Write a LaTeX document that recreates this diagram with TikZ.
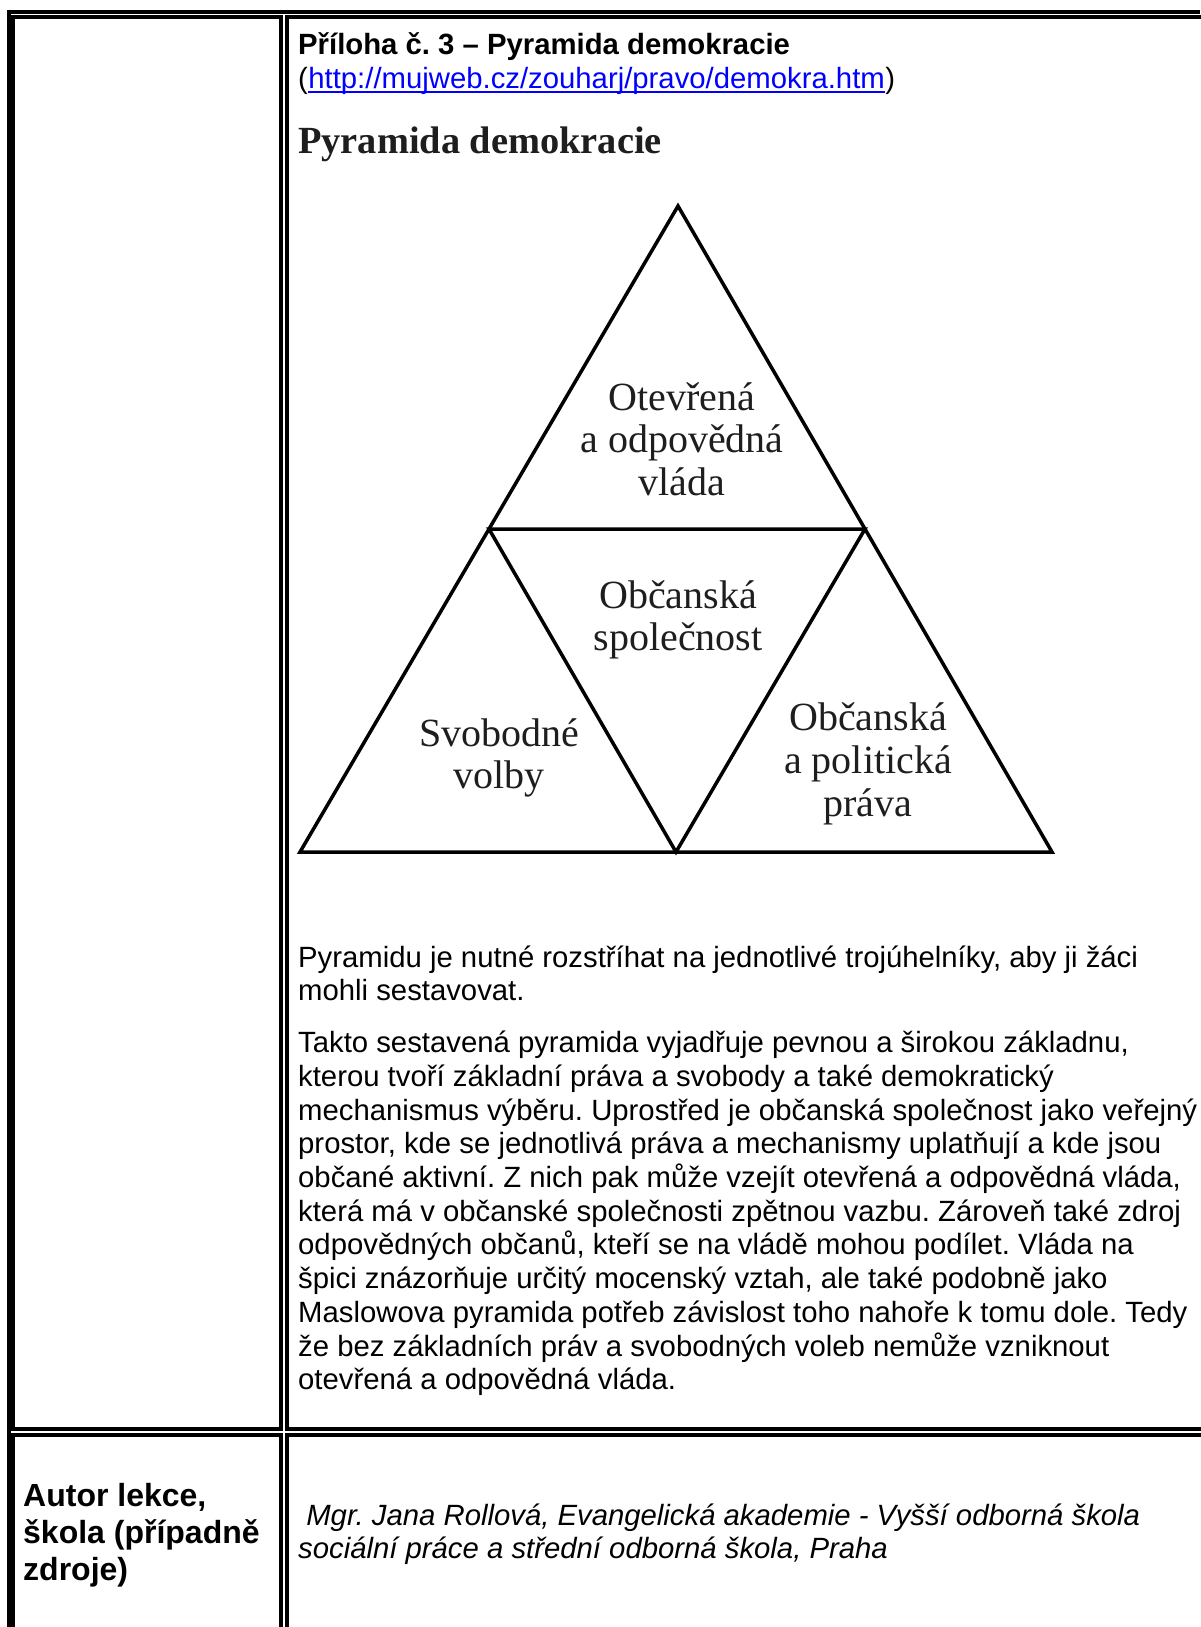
\documentclass[tikz,border=0pt]{standalone}
\usepackage{fontspec}
\setmainfont{Liberation Sans}
\newfontfamily\serifface{Liberation Serif}
\definecolor{linkblue}{RGB}{0,0,255}
\definecolor{trigray}{RGB}{30,30,30}
\frenchspacing
\begin{document}
\frenchspacing
\begin{tikzpicture}[x=1bp,y=-1bp,
  bodytxt/.style={anchor=base west, inner sep=0pt, font=\fontsize{29.3bp}{33.7bp}\selectfont},
  boldtxt/.style={anchor=base west, inner sep=0pt, font=\fontsize{29.3bp}{33.7bp}\selectfont\bfseries},
  itxt/.style={anchor=base west, inner sep=0pt, font=\fontsize{29.3bp}{33.7bp}\selectfont\itshape},
  lefthead/.style={anchor=base west, inner sep=0pt, font=\fontsize{32bp}{37bp}\selectfont\bfseries},
  trilabel/.style={anchor=base, inner sep=0pt, text=trigray, font=\serifface\fontsize{40bp}{44bp}\selectfont},
  triline/.style={draw=black, line width=3.5bp, line join=miter},
  cellborder/.style={draw=black, line width=4bp}
]
\useasboundingbox (0,0) rectangle (1200,1627);
\fill[white] (0,0) rectangle (1200,1627);

% table borders
\fill[black] (7,10) rectangle (1200,14);
\fill[black] (7,10) rectangle (11,1627);
\draw[cellborder] (13,17.5) rectangle (281,1429);
\draw[cellborder] (287,17.5) rectangle (1230,1429);
\draw[cellborder] (13,1435) rectangle (281,1660);
\draw[cellborder] (287,1435) rectangle (1230,1660);

% heading
\node[boldtxt] (head) at (298,54.3) {Příloha č. 3 – Pyramida demokracie};
\node[bodytxt] (lp) at (298,88) {(};
\node[bodytxt, text=linkblue] (url) at (lp.base east) {http://mujweb.cz/zouharj/pravo/demokra.htm};
\node[bodytxt] (rp) at (url.base east) {)};
\draw[linkblue, line width=2bp] ([yshift=-3.5bp]url.base west) -- ([yshift=-3.5bp]url.base east);

% image title
\node[anchor=base west, inner sep=0pt, text=trigray, font=\serifface\bfseries\fontsize{38.4bp}{42bp}\selectfont] (title) at (298,153) {Pyramida demokracie};

% pyramid
\coordinate (A) at (678,206);
\coordinate (BL) at (300,852);
\coordinate (BR) at (1052,852);
\coordinate (ML) at (489,529);
\coordinate (MR) at (865,529);
\coordinate (BM) at (676,852);
\draw[triline] (A) -- (BL) -- (BR) -- cycle;
\draw[triline] (ML) -- (MR) -- (BM) -- cycle;

\node[trilabel] (t1) at (682,410) {Otevřená};
\node[trilabel] (t2) at (682,452) {a odpovědná};
\node[trilabel] (t3) at (682,495) {vláda};
\node[trilabel] (m1) at (678,608.3) {Občanská};
\node[trilabel] (m2) at (678,650) {společnost};
\node[trilabel] (l1) at (499,746) {Svobodné};
\node[trilabel] (l2) at (499,788) {volby};
\node[trilabel] (r1) at (868,730) {Občanská};
\node[trilabel] (r2) at (868,773) {a politická};
\node[trilabel] (r3) at (868,816) {práva};

% paragraph 1
\node[bodytxt] (p1a) at (298,967) {Pyramidu je nutné rozstříhat na jednotlivé trojúhelníky, aby ji žáci};
\node[bodytxt] (p1b) at (298,1000.7) {mohli sestavovat.};

% paragraph 2
\node[bodytxt] (q1) at (298,1052.7) {Takto sestavená pyramida vyjadřuje pevnou a širokou základnu,};
\node[bodytxt] (q2) at (298,1086.4) {kterou tvoří základní práva a svobody a také demokratický};
\node[bodytxt] (q3) at (298,1120.1) {mechanismus výběru. Uprostřed je občanská společnost jako veřejný};
\node[bodytxt] (q4) at (298,1153.8) {prostor, kde se jednotlivá práva a mechanismy uplatňují a kde jsou};
\node[bodytxt] (q5) at (298,1187.5) {občané aktivní. Z nich pak může vzejít otevřená a odpovědná vláda,};
\node[bodytxt] (q6) at (298,1221.2) {která má v občanské společnosti zpětnou vazbu. Zároveň také zdroj};
\node[bodytxt] (q7) at (298,1254.9) {odpovědných občanů, kteří se na vládě mohou podílet. Vláda na};
\node[bodytxt] (q8) at (298,1288.6) {špici znázorňuje určitý mocenský vztah, ale také podobně jako};
\node[bodytxt] (q9) at (298,1322.3) {Maslowova pyramida potřeb závislost toho nahoře k tomu dole. Tedy};
\node[bodytxt] (q10) at (298,1356) {že bez základních práv a svobodných voleb nemůže vzniknout};
\node[bodytxt] (q11) at (298,1389.7) {otevřená a odpovědná vláda.};

% bottom row
\node[lefthead] (a1) at (23,1506) {Autor lekce,};
\node[lefthead] (a2) at (23,1543.5) {škola (případně};
\node[lefthead] (a3) at (23,1580.5) {zdroje)};
\node[itxt] (i1) at (306.1,1525) {Mgr. Jana Rollová, Evangelická akademie - Vyšší odborná škola};
\node[itxt] (i2) at (298,1558.5) {sociální práce a střední odborná škola, Praha};
\end{tikzpicture}
\end{document}
